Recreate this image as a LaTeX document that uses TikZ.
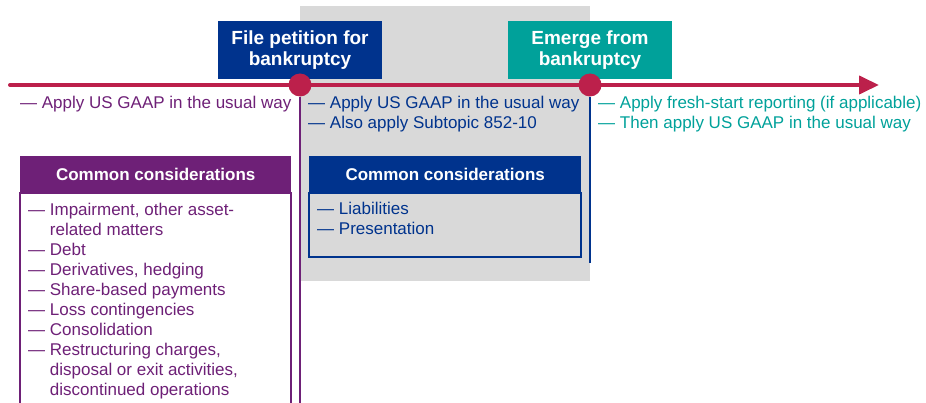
\documentclass[tikz,border=0pt]{standalone}
\usepackage{fontspec}
\setmainfont{Liberation Sans}
\usetikzlibrary{arrows.meta, positioning}
\definecolor{kblue}{RGB}{0,51,141}
\definecolor{kteal}{RGB}{0,161,154}
\definecolor{kpurple}{RGB}{110,32,119}
\definecolor{kred}{RGB}{188,32,75}
\definecolor{kgray}{RGB}{217,217,217}
\tikzset{
  event/.style = {
    align=center, text=white, font=\fontsize{19}{21}\selectfont\bfseries,
    minimum width=164pt, minimum height=58pt, inner sep=0pt
  },
  dot/.style = {circle, fill=kred, minimum size=23pt, inner sep=0pt},
  hdr/.style = {
    anchor=north west, text=white, font=\fontsize{17}{20}\selectfont\bfseries,
    minimum height=36pt, inner sep=0pt
  },
  cbody/.style = {draw, line width=1.5pt, inner sep=0pt},
  note/.style = {anchor=base west, inner sep=0pt, font=\fontsize{17}{20}\selectfont},
  timeline/.style = {kred, line width=4pt, line cap=round, -{Triangle[length=20pt, width=18pt]}},
  stem/.style = {line width=1.5pt},
}
\newcommand{\hang}{\phantom{— }}
\newcommand{\notelines}[1]{\begin{tabular}[t]{@{}l@{}}#1\end{tabular}}

\begin{document}
\begin{tikzpicture}[x=1pt, y=-1pt]
    \useasboundingbox (0,0) rectangle (926,403);
    \clip (0,0) rectangle (926,403);

    % Period in bankruptcy (shaded)
    \fill[kgray] (300,6) rectangle (590,281);

    % Timeline
    \coordinate (t0) at (10,85);
    \coordinate (t1) at (879,85);
    \draw[timeline] (t0) -- (t1);

    % Events
    \node[event, fill=kblue] (petition) at (300,50) {File petition for\\bankruptcy};
    \node[event, fill=kteal] (emerge) at (590,50) {Emerge from\\bankruptcy};
    \node[dot] (pet) at (300,85) {};
    \node[dot] (emg) at (590,85) {};
    \coordinate (petEnd) at (300,410);
    \coordinate (emgEnd) at (590,263);
    \draw[stem, kpurple] (pet.south) -- (petEnd);
    \draw[stem, kblue] (emg.south) -- (emgEnd);

    % Notes below the timeline
    \node[note, text=kpurple] (preNote) at (20,109) {\notelines{— Apply US GAAP in the usual way}};
    \node[note, text=kblue] (inNote) at (308,109) {\notelines{— Apply US GAAP in the usual way\\— Also apply Subtopic 852-10}};
    \node[note, text=kteal] (postNote) at (598,109) {\notelines{— Apply fresh-start reporting (if applicable)\\— Then apply US GAAP in the usual way}};

    % Common considerations before filing
    \node[hdr, fill=kpurple, minimum width=271pt] (phdr) at (20,156) {Common considerations};
    \node[cbody, draw=kpurple, fill=white, minimum width=271pt, minimum height=220pt, below=0pt of phdr] (pbody) {};
    \node[note, text=kpurple] (pList) at (28,216) {\notelines{— Impairment, other asset-\\\hang related matters\\— Debt\\— Derivatives, hedging\\— Share-based payments\\— Loss contingencies\\— Consolidation\\— Restructuring charges,\\\hang disposal or exit activities,\\\hang discontinued operations}};

    % Common considerations during bankruptcy
    \node[hdr, fill=kblue, minimum width=272pt] (bhdr) at (309,156) {Common considerations};
    \node[cbody, draw=kblue, fill=kgray, minimum width=272pt, minimum height=64pt, below=0pt of bhdr] (bbody) {};
    \node[note, text=kblue] (bList) at (317,215) {\notelines{— Liabilities\\— Presentation}};
  \end{tikzpicture}
\end{document}
